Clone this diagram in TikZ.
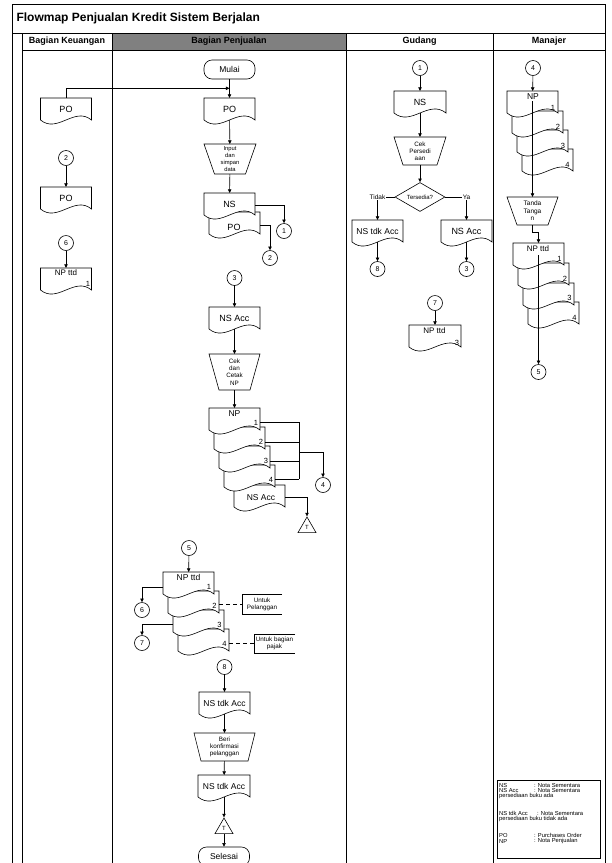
\documentclass[tikz,border=0pt]{standalone}
\usepackage{fontspec}
\setmainfont{Liberation Sans}
\usetikzlibrary{shapes.geometric,arrows.meta,calc}
\makeatletter
\newdimen\rk@a \newdimen\rk@b \newdimen\rk@c \newdimen\rk@d
\def\rkinset{10pt}
\pgfdeclareshape{docu}{%
  \inheritsavedanchors[from=rectangle]%
  \inheritanchorborder[from=rectangle]%
  \inheritanchor[from=rectangle]{center}%
  \inheritanchor[from=rectangle]{north}%
  \inheritanchor[from=rectangle]{south}%
  \inheritanchor[from=rectangle]{east}%
  \inheritanchor[from=rectangle]{west}%
  \inheritanchor[from=rectangle]{north east}%
  \inheritanchor[from=rectangle]{north west}%
  \inheritanchor[from=rectangle]{south east}%
  \inheritanchor[from=rectangle]{south west}%
  \inheritanchor[from=rectangle]{mid}%
  \inheritanchor[from=rectangle]{base}%
  \backgroundpath{%
    \southwest \pgf@xa=\pgf@x \pgf@ya=\pgf@y
    \northeast \pgf@xb=\pgf@x \pgf@yb=\pgf@y
    \pgf@xc=\pgf@xb \advance\pgf@xc by -\pgf@xa
    \rk@a=\pgf@xa \advance\rk@a by 0.6667\pgf@xc
    \rk@b=\pgf@xa \advance\rk@b by 0.3333\pgf@xc
    \rk@c=\pgf@ya \advance\rk@c by 14pt
    \rk@d=\pgf@ya \advance\rk@d by -14pt
    \pgfpathmoveto{\pgfqpoint{\pgf@xa}{\pgf@yb}}%
    \pgfpathlineto{\pgfqpoint{\pgf@xb}{\pgf@yb}}%
    \pgfpathlineto{\pgfqpoint{\pgf@xb}{\pgf@ya}}%
    \pgfpathcurveto{\pgfqpoint{\rk@a}{\rk@c}}{\pgfqpoint{\rk@b}{\rk@d}}{\pgfqpoint{\pgf@xa}{\pgf@ya}}%
    \pgfpathclose
  }%
}
\pgfdeclareshape{manualop}{%
  \inheritsavedanchors[from=rectangle]%
  \inheritanchorborder[from=rectangle]%
  \inheritanchor[from=rectangle]{center}%
  \inheritanchor[from=rectangle]{north}%
  \inheritanchor[from=rectangle]{south}%
  \inheritanchor[from=rectangle]{east}%
  \inheritanchor[from=rectangle]{west}%
  \inheritanchor[from=rectangle]{mid}%
  \inheritanchor[from=rectangle]{base}%
  \backgroundpath{%
    \southwest \pgf@xa=\pgf@x \pgf@ya=\pgf@y
    \northeast \pgf@xb=\pgf@x \pgf@yb=\pgf@y
    \rk@a=\pgf@xa \advance\rk@a by \rkinset
    \rk@b=\pgf@xb \advance\rk@b by -\rkinset
    \pgfpathmoveto{\pgfqpoint{\pgf@xa}{\pgf@yb}}%
    \pgfpathlineto{\pgfqpoint{\pgf@xb}{\pgf@yb}}%
    \pgfpathlineto{\pgfqpoint{\rk@b}{\pgf@ya}}%
    \pgfpathlineto{\pgfqpoint{\rk@a}{\pgf@ya}}%
    \pgfpathclose
  }%
}
\makeatother
\tikzset{
  opinset/.code={\def\rkinset{#1}},
  ln/.style={line width=0.6pt},
  arr/.style={ln,-{Triangle[length=3.6pt,width=3.4pt]}},
  frm/.style={line width=0.8pt},
  doc/.style={shape=docu, draw, fill=white, ln, minimum width=51pt, minimum height=22pt,
     inner sep=0pt, outer sep=0pt, font=\fontsize{9}{10}\selectfont},
  manop/.style={shape=manualop, draw, fill=white, ln, minimum width=51pt, minimum height=30pt,
     inner sep=0pt, outer sep=0pt, align=center, font=\fontsize{6.3}{7}\selectfont},
  conn/.style={circle, draw, fill=white, ln, minimum size=15pt, inner sep=0pt, font=\fontsize{7}{8}\selectfont},
  term/.style={rectangle, rounded corners=8pt, draw, ln, minimum width=51pt, minimum height=19pt,
     inner sep=0pt, font=\fontsize{8.5}{9}\selectfont},
  offpage/.style={regular polygon, regular polygon sides=3, draw, fill=white, ln, minimum size=20.8pt,
     inner sep=0pt, font=\fontsize{6}{6}\selectfont},
  dec/.style={diamond, aspect=1.7, draw, fill=white, ln, minimum width=50pt, minimum height=29pt,
     inner sep=0pt, font=\fontsize{6}{6}\selectfont},
  num/.style={inner sep=0pt, font=\fontsize{7.5}{8}\selectfont},
  dlab/.style={inner sep=0pt, font=\fontsize{8.5}{9}\selectfont},
  brl/.style={inner sep=0.6pt, fill=white, font=\fontsize{6.5}{7}\selectfont},
  annot/.style={minimum width=40pt, minimum height=20pt, inner sep=0pt, align=center,
     font=\fontsize{6.3}{7}\selectfont},
  hdr/.style={font=\bfseries\fontsize{9}{10}\selectfont},
  legt/.style={anchor=west, inner sep=0pt, font=\fontsize{5.8}{6}\selectfont},
}
\begin{document}
\begin{tikzpicture}[x=1pt,y=-1pt]
\useasboundingbox (0,0) rectangle (612,863);
% ---------- frame ----------
\fill[gray!100!black, fill=black!50] (112,33) rectangle (346,50);
\draw[frm] (12,4) rectangle (605,880);
\draw[frm] (12,33) -- (605,33);
\draw[frm] (22,33) -- (22,880);
\draw[frm] (22,50) -- (605,50);
\draw[frm] (112,33) -- (112,880);
\draw[frm] (346,33) -- (346,880);
\draw[frm] (493,33) -- (493,880);
\node[anchor=west, font=\bfseries\fontsize{12}{14}\selectfont] (title) at (13,18.5) {Flowmap Penjualan Kredit Sistem Berjalan};
\node[hdr] (h1) at (67,41.5) {Bagian Keuangan};
\node[hdr] (h2) at (229,41.5) {Bagian Penjualan};
\node[hdr] (h3) at (419.5,41.5) {Gudang};
\node[hdr] (h4) at (549,41.5) {Manajer};
% ---------- Bagian Keuangan ----------
\node[doc] (kpo1) at (66,109) {PO};
\node[conn] (k2) at (66,158) {2};
\node[doc] (kpo2) at (66,198) {PO};
\node[conn] (k6) at (66,243) {6};
\node[doc] (knp) at (66,279) {};
\node[dlab, font=\fontsize{8}{9}\selectfont] (knpl) at (66,273) {NP ttd};
\node[num] (knp1) at (88,283.5) {1};
\draw[arr] (k2) -- (kpo2);
\draw[arr] (k6) -- (knp);
% ---------- Bagian Penjualan ----------
\node[term] (mulai) at (229.5,69.5) {Mulai};
\node[doc] (ppo) at (229.5,109) {PO};
\coordinate (pj) at (229.5,88.3);
\draw[arr] (mulai) -- (ppo);
\draw[arr] (kpo1.north) |- (pj);
\node[manop, opinset=10.5pt, minimum width=52pt, font=\fontsize{5.8}{6.8}\selectfont] (input) at (230,159) {Input\\dan\\simpan\\data};
\draw[arr] (ppo) -- (input);
\node[doc] (ppo2) at (234.5,223) {};
\node[doc] (pns) at (229.5,204) {NS};
\node[dlab, font=\fontsize{9}{10}\selectfont] (ppol) at (234,227.5) {PO};
\draw[arr] (input) -- (pns);
\node[conn] (p1) at (284,231) {1};
\node[conn] (p2) at (270,258) {2};
\draw[arr] ($(pns.east)+(0,1)$) -| (p1);
\draw[arr] ($(ppo2.east)+(0,2)$) -| (p2);
\node[conn] (p3) at (234.5,278) {3};
\node[doc] (pnsacc) at (234.5,318) {NS Acc};
\node[manop, minimum height=36pt, font=\fontsize{6.3}{7.3}\selectfont] (cetak) at (234.5,372) {Cek\\dan\\Cetak\\NP};
\draw[arr] (p3) -- (pnsacc);
\draw[arr] (pnsacc) -- (cetak);
\node[doc] (pnsb) at (259.5,496) {};
\node[doc] (pnp4) at (249.5,476) {};
\node[doc] (pnp3) at (244.5,457) {};
\node[doc] (pnp2) at (239.5,438) {};
\node[doc] (pnp1) at (234.5,419) {};
\draw[arr] (cetak) -- (pnp1);
\node[dlab] (pnpl) at (234.5,413.5) {NP};
\node[num] (pn1) at (256,423) {1};
\node[num] (pn2) at (261,442) {2};
\node[num] (pn3) at (266,461) {3};
\node[num] (pn4) at (271,480) {4};
\node[dlab] (pnsbl) at (261,497.5) {NS Acc};
\coordinate (pvt) at (299,422);
\coordinate (pvb) at (299,479);
\coordinate (pvm) at (299,452);
\draw[ln] (pnp1.east |- pvt) -- (pvt);
\draw[ln] (pnp2.east |- pn2) -- (pn2 -| pvt);
\draw[ln] (pnp3.east |- pn3) -- (pn3 -| pvt);
\draw[ln] (pnp4.east |- pvb) -- (pvb);
\draw[ln] (pvt) -- (pvb);
\node[conn] (p4) at (323,485) {4};
\draw[arr] (pvm) -| (p4);
\node[offpage] (pt1) at (307,527.4) {T};
\draw[arr] ($(pnsb.east)+(0,1)$) -| (pt1.north);
% NP ttd stack
\node[conn] (p5) at (189,548) {5};
\node[doc] (pt4) at (203.5,640) {};
\node[doc] (pt3) at (198.5,621) {};
\node[doc] (pt2) at (193.5,602) {};
\node[doc] (pt1d) at (188.5,583) {};
\draw[arr] (p5) -- (pt1d);
\node[dlab] (ptl) at (188.5,577.5) {NP ttd};
\node[num] (ptn1) at (209,587) {1};
\node[num] (ptn2) at (214.5,606) {2};
\node[num] (ptn3) at (219.5,625) {3};
\node[num] (ptn4) at (224.5,644) {4};
\node[conn] (p6) at (142,610) {6};
\node[conn] (p7) at (142,643) {7};
\draw[arr] ($(pt1d.west)+(0,4)$) -| (p6);
\draw[arr] ($(pt3.west)+(0,3)$) -| (p7);
\node[annot] (a1) at (262,604) {Untuk\\Pelanggan};
\draw[ln] (a1.north east) -- (a1.north west) -- (a1.south west) -- (a1.south east);
\node[annot, minimum width=41pt, minimum height=19pt] (a2) at (274.5,643.5) {Untuk bagian\\pajak};
\draw[ln] (a2.north east) -- (a2.north west) -- (a2.south west) -- (a2.south east);
\draw[ln, dash pattern=on 4pt off 3pt] (pt2.east |- a1.west) -- (a1.west);
\draw[ln, dash pattern=on 4pt off 3pt] (pt4.east |- a2.west) -- (a2.west);
% NS tdk Acc flow
\node[conn] (p8) at (224.5,667) {8};
\node[doc, font=\fontsize{8.5}{9}\selectfont] (ptdk1) at (224.5,703) {NS tdk Acc};
\node[manop, opinset=7pt, minimum width=61pt, minimum height=28pt] (beri) at (224.5,747) {Beri\\konfirmasi\\pelanggan};
\node[doc, minimum width=52pt, font=\fontsize{8.5}{9}\selectfont] (ptdk2) at (224,786) {NS tdk Acc};
\node[offpage] (pt2t) at (224,828.4) {T};
\node[term] (selesai) at (224,856.5) {Selesai};
\draw[arr] (p8) -- (ptdk1);
\draw[arr] (ptdk1) -- (beri);
\draw[arr] (beri) -- (ptdk2);
\draw[arr] (ptdk2) -- (pt2t.north);
\draw[arr] (pt2t.south) -- (selesai);
% ---------- Gudang ----------
\node[conn] (g1) at (420,68) {1};
\node[doc, minimum width=52pt] (gns) at (420,102) {NS};
\node[manop, opinset=9pt, minimum width=52pt, minimum height=28pt] (gcek) at (420,151) {Cek\\Persedi\\aan};
\node[dec] (gdec) at (420,197) {Tersedia?};
\draw[arr] (g1) -- (gns);
\draw[arr] (gns) -- (gcek);
\draw[arr] (gcek) -- (gdec);
\node[doc, font=\fontsize{8.5}{9}\selectfont] (gtdk) at (377.5,231) {NS tdk Acc};
\node[doc] (gacc) at (466.5,231) {NS Acc};
\coordinate (gl) at (377.5,197);
\coordinate (gr) at (466.5,197);
\draw[ln] (gdec.west) -- (gl);
\draw[arr] (gl) -- (gtdk);
\draw[ln] (gdec.east) -- (gr);
\draw[arr] (gr) -- (gacc);
\node[brl] (gtl) at (gl) {Tidak};
\node[brl] (gyl) at (gr) {Ya};
\node[conn] (g8) at (377.5,269) {8};
\node[conn] (g3) at (466.5,269) {3};
\draw[arr] (gtdk) -- (g8);
\draw[arr] (gacc) -- (g3);
\node[conn] (g7) at (435,303) {7};
\node[doc, minimum width=52pt] (gnp) at (435,336) {};
\node[dlab, font=\fontsize{8}{9}\selectfont] (gnpl) at (434.5,331) {NP ttd};
\node[num] (gnp3) at (457,343) {3};
\draw[arr] (g7) -- (gnp);
% ---------- Manajer ----------
\node[conn] (m4) at (533,68) {4};
\node[doc] (m4d) at (547.5,160) {};
\node[doc] (m3d) at (542.5,141) {};
\node[doc] (m2d) at (537.5,122) {};
\node[doc] (m1d) at (532.5,102) {};
\draw[arr] (m4) -- (m1d);
\node[dlab] (mnpl) at (533,96.5) {NP};
\node[num] (mn1) at (553,107.5) {1};
\node[num] (mn2) at (558,127) {2};
\node[num] (mn3) at (563,146) {3};
\node[num] (mn4) at (567.5,165) {4};
\node[manop, minimum height=28pt, font=\fontsize{6.5}{7.5}\selectfont] (mtt) at (532.5,211) {Tanda\\Tanga\\n};
\coordinate (mst) at (532.5,101);
\draw[arr] (mst) -- (mtt.north);
\node[doc] (mt4) at (553.5,313) {};
\node[doc] (mt3) at (548.5,294) {};
\node[doc] (mt2) at (543.5,274) {};
\node[doc] (mt1) at (538.5,254) {};
\coordinate (mj1) at (532.5,232);
\coordinate (mj2) at (538.5,232);
\draw[arr] (mtt.south) -- (mj1) -- (mj2) -- (mt1.north);
\node[dlab, font=\fontsize{8}{9}\selectfont] (mtl) at (538,249) {NP ttd};
\node[num] (mt1n) at (559.5,259) {1};
\node[num] (mt2n) at (565,278.5) {2};
\node[num] (mt3n) at (569.5,298) {3};
\node[num] (mt4n) at (574.5,317.5) {4};
\node[conn] (m5) at (538.5,372) {5};
\coordinate (mst2) at (538.5,255);
\draw[arr] (mst2) -- (m5);
% ---------- legend ----------
\node[draw, ln, minimum width=103pt, minimum height=78pt, inner sep=0pt] (leg) at (548.5,819) {};
\node[legt] (l1a) at (499,785) {NS};
\node[legt] (l1b) at (534,785) {: Nota Sementara};
\node[legt] (l2a) at (499,790.5) {NS Acc};
\node[legt] (l2b) at (534,790.5) {: Nota Sementara};
\node[legt] (l3) at (499,796) {persediaan buku ada};
\node[legt] (l4a) at (499,813) {NS tdk Acc};
\node[legt] (l4b) at (537,813) {: Nota Sementara};
\node[legt] (l5) at (499,818.5) {persediaan buku tidak ada};
\node[legt] (l6a) at (499,835.5) {PO};
\node[legt] (l6b) at (534,835.5) {: Purchases Order};
\node[legt] (l7a) at (499,841) {NP};
\node[legt] (l7b) at (534,841) {: Nota Penjualan};
\end{tikzpicture}
\end{document}
